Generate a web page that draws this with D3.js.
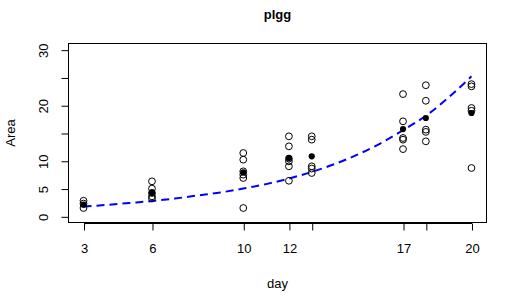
<!DOCTYPE html>
<html>
<head>
<meta charset="utf-8">
<script src="https://cdn.jsdelivr.net/npm/d3@7"></script>
<style>
  html, body { margin: 0; padding: 0; background: #fff; }
  svg { display: block; font-family: "Liberation Sans", Arial, Helvetica, sans-serif; }
</style>
</head>
<body>
<script>
// ---- data ----
const days = [3, 6, 10, 12, 13, 17, 18, 20];
const observedArea = [
  [2.8, 2.3, 1.5],
  [6.3, 5.0, 4.2, 3.6, 3.2],
  [11.4, 10.2, 8.1, 7.5, 6.9, 1.5],
  [14.4, 12.6, 10.4, 9.9, 9.0, 6.4],
  [14.4, 13.8, 9.0, 8.6, 7.8],
  [22.0, 17.1, 14.1, 13.8, 12.1],
  [23.6, 20.8, 15.6, 15.2, 13.5],
  [23.8, 23.4, 19.5, 19.0, 8.7]
];
const meanArea = [2.1, 4.3, 7.9, 10.5, 10.8, 15.7, 17.7, 18.6];
const fitDays = [3, 4, 5, 6, 7, 8, 9, 10, 11, 12, 13, 14, 15, 16, 17, 18, 19, 20];
const fitArea = [1.75, 2.05, 2.4, 2.75, 3.2, 3.75, 4.3, 5.0, 5.8, 6.8, 8.0, 9.4, 11.1, 13.1, 15.5, 18.1, 21.4, 25.2];
const xTicks = [3, 6, 10, 12, 13, 17, 18, 20];
const xTickLabels = ["3", "6", "10", "12", "", "17", "", "20"];
const yTicks = [0, 5, 10, 15, 20, 25, 30];
const yTickLabels = ["0", "5", "10", "", "20", "", "30"];
const titleText = "plgg";
const xTitle = "day";
const yTitle = "Area";

// ---- layout ----
const W = 513, H = 300;
const mLeft = 68, mRight = 487, mTop = 43, mBottom = 223;
const fs = 13;

const svg = d3.select("body").append("svg").attr("width", W).attr("height", H);
svg.append("rect").attr("width", W).attr("height", H).attr("fill", "#fff");

const xr = [3 - 0.04 * 17, 20 + 0.04 * 17];
const yr = [0 - 0.04 * 30, 30 + 0.04 * 30];
const x = d3.scaleLinear().domain(xr).range([mLeft, mRight]);
const y = d3.scaleLinear().domain(yr).range([mBottom, mTop]);

// box
svg.append("rect")
  .attr("x", mLeft + 0.5).attr("y", mTop + 0.5)
  .attr("width", mRight - mLeft - 1).attr("height", mBottom - mTop - 1)
  .attr("fill", "none").attr("stroke", "#000").attr("stroke-width", 1);

// x axis (R style: line spanning first to last tick, ticks down)
const xAxis = d3.axisBottom(x).tickValues(xTicks)
  .tickFormat((d, i) => xTickLabels[i]).tickSizeInner(7).tickSizeOuter(0).tickPadding(13);
const gx = svg.append("g").attr("transform", `translate(0.5,${mBottom + 0.5})`).call(xAxis);
gx.select(".domain").remove();
gx.append("line").attr("x1", x(xTicks[0])).attr("x2", x(xTicks[xTicks.length - 1]))
  .attr("y1", 0).attr("y2", 0).attr("stroke", "#000");
gx.selectAll("text").attr("font-size", fs).attr("fill", "#000")
  .attr("font-family", "Liberation Sans, Arial, sans-serif");
gx.selectAll("line").attr("stroke", "#000");

// y axis
const yAxis = d3.axisLeft(y).tickValues(yTicks)
  .tickFormat((d, i) => yTickLabels[i]).tickSizeInner(7).tickSizeOuter(0);
const gy = svg.append("g").attr("transform", `translate(${mLeft + 0.5},0.5)`).call(yAxis);
gy.select(".domain").remove();
gy.append("line").attr("x1", 0).attr("x2", 0)
  .attr("y1", y(yTicks[0])).attr("y2", y(yTicks[yTicks.length - 1])).attr("stroke", "#000");
gy.selectAll("line").attr("stroke", "#000");
gy.selectAll(".tick text")
  .attr("x", null).attr("dy", null)
  .attr("text-anchor", "middle")
  .attr("transform", "translate(-21,0) rotate(-90)")
  .attr("font-size", fs).attr("fill", "#000")
  .attr("font-family", "Liberation Sans, Arial, sans-serif");

// fitted curve
const line = d3.line().x(d => x(d[0])).y(d => y(d[1])).curve(d3.curveMonotoneX);
svg.append("path")
  .datum(fitDays.map((d, i) => [d, fitArea[i]]))
  .attr("d", line)
  .attr("fill", "none").attr("stroke", "#0000ff").attr("stroke-width", 2)
  .attr("stroke-dasharray", "8,5").attr("stroke-linecap", "butt");

// observed points
const pts = [];
days.forEach((d, i) => observedArea[i].forEach(v => pts.push([d, v])));
svg.append("g").selectAll("circle").data(pts).join("circle")
  .attr("cx", d => x(d[0])).attr("cy", d => y(d[1])).attr("r", 3.4)
  .attr("fill", "none").attr("stroke", "#000").attr("stroke-width", 1);

// means
svg.append("g").selectAll("circle").data(days.map((d, i) => [d, meanArea[i]])).join("circle")
  .attr("cx", d => x(d[0])).attr("cy", d => y(d[1])).attr("r", 3.1)
  .attr("fill", "#000");

// titles
svg.append("text").attr("x", (mLeft + mRight) / 2).attr("y", 19)
  .attr("text-anchor", "middle").attr("font-weight", "bold").attr("font-size", 13)
  .text(titleText);
svg.append("text").attr("x", (mLeft + mRight) / 2).attr("y", 288)
  .attr("text-anchor", "middle").attr("font-size", fs).text(xTitle);
svg.append("text").attr("transform", `translate(15,${(mTop + mBottom) / 2}) rotate(-90)`)
  .attr("text-anchor", "middle").attr("font-size", fs).text(yTitle);
</script>
</body>
</html>
